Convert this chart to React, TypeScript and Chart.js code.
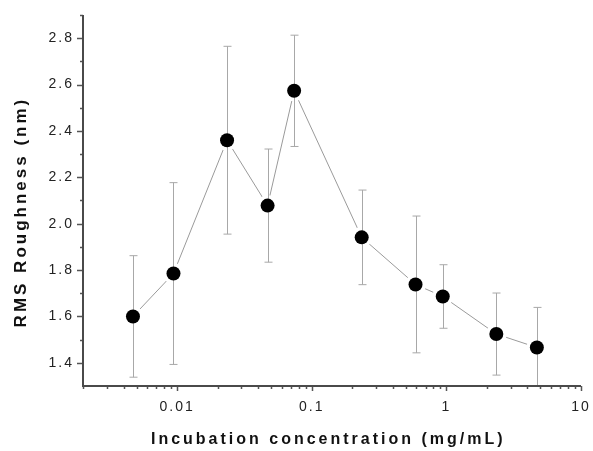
import { useEffect, useRef } from "react";
import { Chart, registerables } from "chart.js";

Chart.register(...registerables);

// Incubation concentration (mg/mL)
const concentrations = [0.0047, 0.0094, 0.0235, 0.047, 0.074, 0.235, 0.59, 0.94, 2.35, 4.7];
// RMS roughness (nm)
const roughness = [1.6, 1.785, 2.36, 2.078, 2.573, 1.941, 1.738, 1.686, 1.524, 1.466];
// symmetric error (nm)
const roughnessError = [0.262, 0.392, 0.405, 0.244, 0.24, 0.204, 0.295, 0.137, 0.177, 0.173];

const xMajorTicks = [0.01, 0.1, 1, 10];
const xTickLabels = ["0.01", "0.1", "1", "10"];
const xMinorTicks = [
  0.002, 0.003, 0.004, 0.005, 0.006, 0.007, 0.008, 0.009,
  0.02, 0.03, 0.04, 0.05, 0.06, 0.07, 0.08, 0.09,
  0.2, 0.3, 0.4, 0.5, 0.6, 0.7, 0.8, 0.9,
  2, 3, 4, 5, 6, 7, 8, 9,
];
const yMajorTicks = [1.4, 1.6, 1.8, 2.0, 2.2, 2.4, 2.6, 2.8];
const yTickLabels = ["1.4", "1.6", "1.8", "2.0", "2.2", "2.4", "2.6", "2.8"];
const yMinorTicks = [1.5, 1.7, 1.9, 2.1, 2.3, 2.5, 2.7, 2.9];

const X_MIN = 0.002;
const X_MAX = 10;
const Y_MIN = 1.3;
const Y_MAX = 2.9;

const FONT = "'Liberation Sans', Arial, Helvetica, sans-serif";

// wide letter spacing as in the original figure: titles (drawn before datasets)
// and tick labels (drawn after datasets, z = 1)
const spacingPlugin = {
  id: "letterSpacing",
  beforeDraw(chart: any) {
    (chart.ctx as any).letterSpacing = "3px";
  },
  afterDatasetsDraw(chart: any) {
    (chart.ctx as any).letterSpacing = "2px";
  },
};

const errorBarPlugin = {
  id: "errorBars",
  afterDatasetDraw(chart: any, args: any) {
    if (args.index !== 1) return;
    const { ctx, chartArea } = chart;
    const xs = chart.scales.x;
    const ys = chart.scales.y;
    ctx.save();
    ctx.beginPath();
    ctx.rect(chartArea.left, chartArea.top, chartArea.right - chartArea.left, chartArea.bottom - chartArea.top);
    ctx.clip();
    ctx.strokeStyle = "#a8a8a8";
    ctx.lineWidth = 1;
    const cap = 4;
    concentrations.forEach((c, i) => {
      const px = Math.round(xs.getPixelForValue(c)) + 0.5;
      const top = ys.getPixelForValue(roughness[i] + roughnessError[i]);
      const bot = ys.getPixelForValue(roughness[i] - roughnessError[i]);
      ctx.beginPath();
      ctx.moveTo(px, top);
      ctx.lineTo(px, bot);
      ctx.moveTo(px - cap, top);
      ctx.lineTo(px + cap, top);
      ctx.moveTo(px - cap, bot);
      ctx.lineTo(px + cap, bot);
      ctx.stroke();
    });
    ctx.restore();
  },
};

const axesPlugin = {
  id: "axesTicks",
  afterDraw(chart: any) {
    const { ctx, chartArea } = chart;
    const xs = chart.scales.x;
    const ys = chart.scales.y;
    const { left, right, top, bottom } = chartArea;
    ctx.save();
    ctx.strokeStyle = "#555";
    ctx.lineWidth = 1.5;
    ctx.beginPath();
    xMajorTicks.forEach((v) => {
      const p = Math.round(xs.getPixelForValue(v)) + 0.5;
      ctx.moveTo(p, bottom);
      ctx.lineTo(p, bottom + 5);
    });
    xMinorTicks.forEach((v) => {
      const p = Math.round(xs.getPixelForValue(v)) + 0.5;
      ctx.moveTo(p, bottom);
      ctx.lineTo(p, bottom + 3);
    });
    yMajorTicks.forEach((v) => {
      const p = Math.round(ys.getPixelForValue(v)) + 0.5;
      ctx.moveTo(left, p);
      ctx.lineTo(left - 6, p);
    });
    yMinorTicks.forEach((v) => {
      const p = Math.round(ys.getPixelForValue(v)) + 0.5;
      ctx.moveTo(left, p);
      ctx.lineTo(left - 3, p);
    });
    ctx.stroke();
    ctx.lineWidth = 2;
    ctx.strokeStyle = "#4a4a4a";
    ctx.beginPath();
    ctx.moveTo(left, top);
    ctx.lineTo(left, bottom);
    ctx.lineTo(right, bottom);
    ctx.stroke();
    ctx.restore();
  },
};

export default function App() {
  const canvasRef = useRef<HTMLCanvasElement | null>(null);

  useEffect(() => {
    const canvas = canvasRef.current;
    if (!canvas) return;
    const points = concentrations.map((c, i) => ({ x: c, y: roughness[i] }));
    const chart = new Chart(canvas, {
      type: "line",
      data: {
        datasets: [
          {
            data: points,
            borderColor: "#9a9a9a",
            borderWidth: 1,
            pointRadius: 0,
            fill: false,
            tension: 0,
            order: 3,
          },
          {
            data: points,
            showLine: false,
            pointRadius: 10.5,
            pointBackgroundColor: "#ffffff",
            pointBorderWidth: 0,
            order: 2,
          },
          {
            data: points,
            showLine: false,
            pointRadius: 7,
            pointBackgroundColor: "#000000",
            pointBorderColor: "#000000",
            pointBorderWidth: 0,
            order: 1,
          },
        ],
      },
      options: {
        animation: false,
        responsive: false,
        devicePixelRatio: 1,
        layout: { padding: { left: 0, right: 12, top: 15, bottom: 0 } },
        plugins: {
          legend: { display: false },
          tooltip: { enabled: false },
        },
        scales: {
          x: {
            type: "logarithmic",
            position: "bottom",
            min: X_MIN,
            max: X_MAX,
            grid: { display: false, drawTicks: false },
            border: { display: false },
            afterBuildTicks: (s: any) => {
              s.ticks = xMajorTicks.map((v) => ({ value: v }));
            },
            afterFit: (s: any) => {
              s.height = 65;
              s.paddingLeft = 0;
              s.paddingRight = 0;
            },
            ticks: {
              z: 1,
              autoSkip: false,
              maxRotation: 0,
              minRotation: 0,
              padding: 13,
              color: "#222",
              font: { family: FONT, size: 14 },
              callback: (_v: any, i: number) => xTickLabels[i] ?? "",
            },
            title: {
              display: true,
              text: "Incubation concentration (mg/mL) ",
              color: "#111",
              font: { family: FONT, size: 16, weight: "bold" },
              padding: { top: 0, bottom: 1.5 },
            },
          },
          y: {
            type: "linear",
            min: Y_MIN,
            max: Y_MAX,
            grid: { display: false, drawTicks: false },
            border: { display: false },
            afterBuildTicks: (s: any) => {
              s.ticks = yMajorTicks.map((v) => ({ value: v }));
            },
            afterFit: (s: any) => {
              s.width = 83;
              s.paddingTop = 0;
              s.paddingBottom = 0;
            },
            ticks: {
              z: 1,
              padding: 9,
              color: "#222",
              font: { family: FONT, size: 14 },
              callback: (_v: any, i: number) => yTickLabels[i] ?? "",
            },
            title: {
              display: true,
              text: "RMS Roughness (nm)   ",
              color: "#111",
              font: { family: FONT, size: 17, weight: "bold" },
              padding: { top: 11, bottom: 0 },
            },
          },
        },
      },
      plugins: [spacingPlugin, errorBarPlugin, axesPlugin],
    } as any);
    return () => chart.destroy();
  }, []);

  return (
    <div style={{ position: "fixed", left: 0, top: 0, width: 593, height: 451, background: "#fff" }}>
      <canvas ref={canvasRef} width={593} height={451} style={{ display: "block" }} />
    </div>
  );
}
